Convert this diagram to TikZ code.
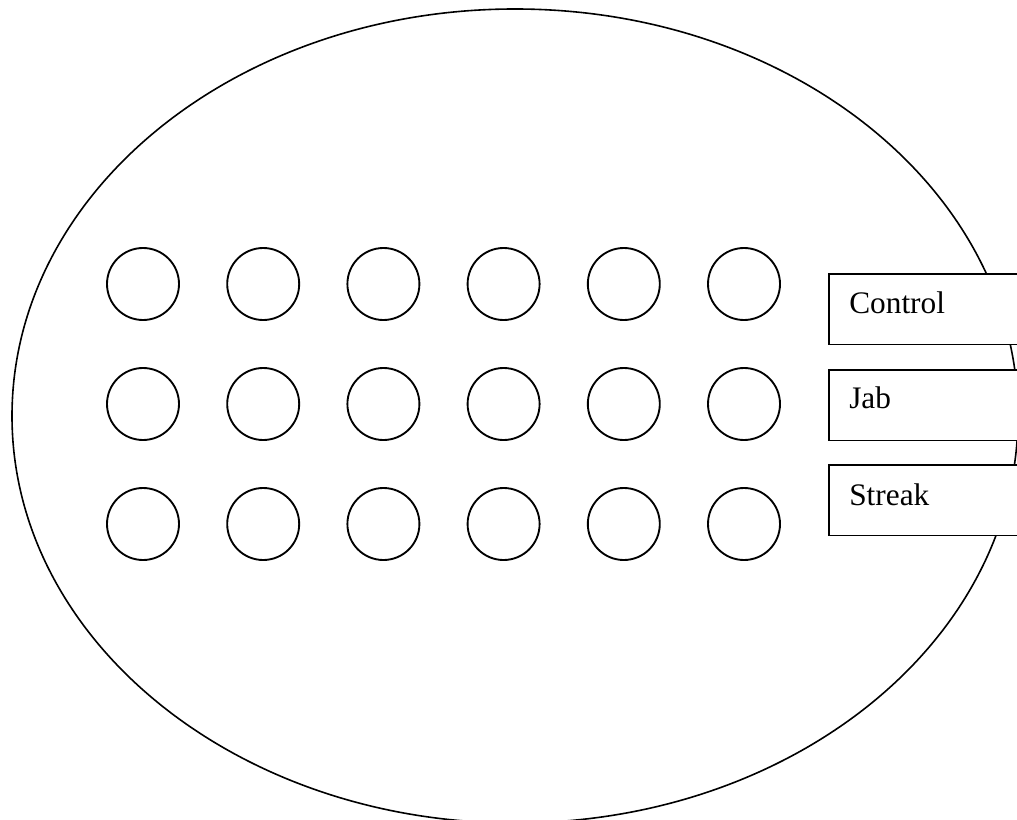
\documentclass[tikz,border=0pt]{standalone}
\usepackage{fontspec}
\setmainfont{Liberation Serif}
\begin{document}
\begin{tikzpicture}[x=0.75pt,y=-0.75pt,
  outline/.style={draw=black,line width=1.2pt},
  well/.style={circle,draw=black,line width=1.4pt,minimum size=54pt,inner sep=0pt},
  tab/.style={rectangle,draw=black,fill=white,line width=1.3pt,minimum width=170pt,minimum height=53pt,inner sep=0pt,anchor=north west},
  tablabel/.style={anchor=base west,inner sep=0pt,font=\fontsize{23.5pt}{28pt}\selectfont}]
  \clip (0,0) rectangle (1017,820);
  \fill[white] (0,0) rectangle (1017,820);
  % outer plate
  \draw[outline] (515,416) ellipse [x radius=377.25pt, y radius=305.25pt];
  % side tabs
  \node[tab] (control) at (828,273) {};
  \node[tab] (jab) at (828,369) {};
  \node[tab] (streak) at (828,464) {};
  \node[tablabel] (controltext) at (849,313) {Control};
  \node[tablabel] (jabtext) at (849,408) {Jab};
  \node[tablabel] (streaktext) at (849,505) {Streak};
  % wells, 3 rows x 6 columns
  \foreach \r/\y in {1/284,2/404,3/524}{
    \foreach \c in {1,...,6}{
      \node[well] (w-\r-\c) at ({143+120.2*(\c-1)},\y) {};
    }
  }
\end{tikzpicture}
\end{document}
